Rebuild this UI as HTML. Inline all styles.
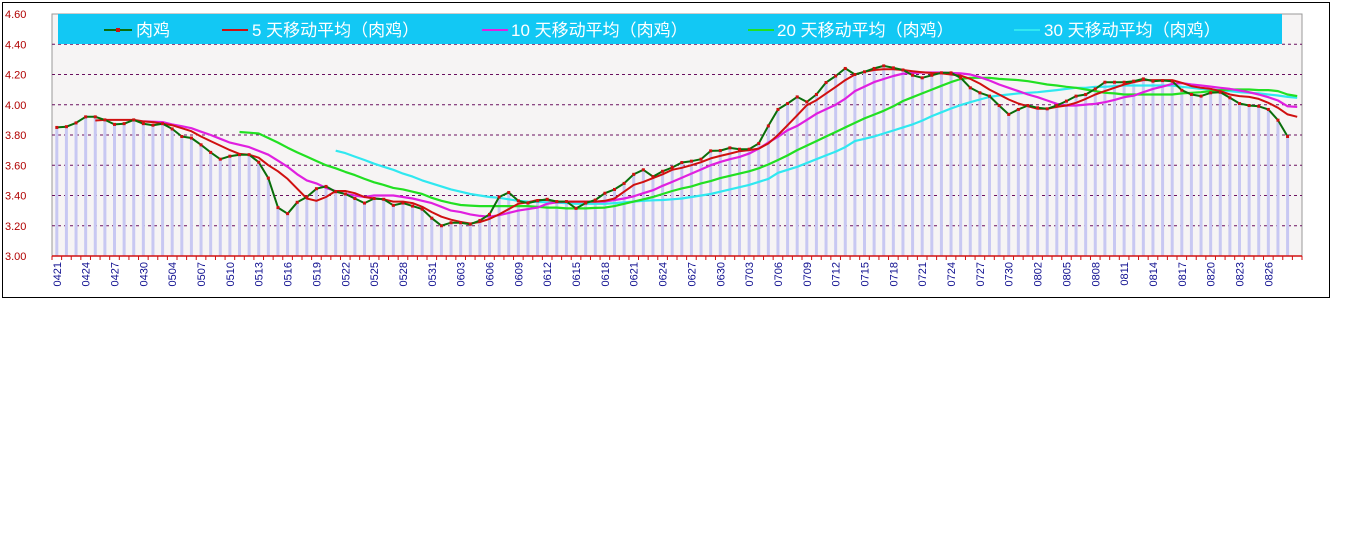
<!DOCTYPE html>
<html><head><meta charset="utf-8">
<style>
html,body{margin:0;padding:0;background:#fff;width:1346px;height:541px;overflow:hidden}
svg{display:block}
text{font-family:"Liberation Sans","Noto Sans CJK SC",sans-serif}
</style></head>
<body>
<svg id="chart" width="1346" height="541" xmlns="http://www.w3.org/2000/svg">
<rect x="2.5" y="2.5" width="1327" height="295" fill="#fff" stroke="#000" stroke-width="1"/>
<rect x="52" y="14" width="1250" height="242" fill="#f6f4f4" stroke="#999" stroke-width="1"/>
<g id="grid"></g>
<g id="bars"></g>
<g id="lines"></g>
<g id="axes"></g>
<g>
<rect x="58" y="14" width="1224" height="30" fill="#12c8f4"/>
<g><line x1="104" y1="30" x2="132" y2="30" stroke="#0a6e0a" stroke-width="2"/><rect x="116" y="28" width="4" height="4" fill="#d01010"/><text x="136" y="36" fill="#fff" font-size="17">肉鸡</text></g>
<g><line x1="222" y1="30" x2="248" y2="30" stroke="#d01010" stroke-width="2"/><text x="252" y="36" fill="#fff" font-size="17">5 天移动平均（肉鸡）</text></g>
<g><line x1="482" y1="30" x2="508" y2="30" stroke="#e020e0" stroke-width="2"/><text x="511" y="36" fill="#fff" font-size="17">10 天移动平均（肉鸡）</text></g>
<g><line x1="748" y1="30" x2="774" y2="30" stroke="#22e022" stroke-width="2"/><text x="777" y="36" fill="#fff" font-size="17">20 天移动平均（肉鸡）</text></g>
<g><line x1="1014" y1="30" x2="1040" y2="30" stroke="#30e8f0" stroke-width="2"/><text x="1044" y="36" fill="#fff" font-size="17">30 天移动平均（肉鸡）</text></g>
</g>
</svg>
<script>
const labels=["0421","0424","0427","0430","0504","0507","0510","0513","0516","0519","0522","0525","0528","0531","0603","0606","0609","0612","0615","0618","0621","0624","0627","0630","0703","0706","0709","0712","0715","0718","0721","0724","0727","0730","0802","0805","0808","0811","0814","0817","0820","0823","0826"];
const yTicks=[3.00,3.20,3.40,3.60,3.80,4.00,4.20,4.40,4.60];
const raw=[3.85,3.855,3.88,3.92,3.92,3.90,3.87,3.875,3.90,3.875,3.865,3.875,3.84,3.79,3.78,3.735,3.685,3.64,3.66,3.67,3.67,3.62,3.515,3.32,3.28,3.355,3.39,3.445,3.46,3.425,3.41,3.38,3.35,3.38,3.375,3.335,3.35,3.33,3.31,3.25,3.20,3.22,3.22,3.21,3.235,3.275,3.39,3.42,3.365,3.35,3.365,3.375,3.36,3.36,3.315,3.35,3.37,3.415,3.44,3.48,3.54,3.57,3.525,3.56,3.585,3.618,3.627,3.64,3.695,3.697,3.715,3.706,3.706,3.744,3.86,3.969,4.008,4.052,4.019,4.068,4.147,4.19,4.24,4.20,4.218,4.24,4.257,4.244,4.23,4.195,4.178,4.195,4.211,4.211,4.178,4.112,4.079,4.057,3.995,3.936,3.969,3.995,3.98,3.973,3.995,4.024,4.057,4.068,4.105,4.149,4.149,4.149,4.156,4.171,4.156,4.16,4.156,4.096,4.068,4.057,4.079,4.083,4.046,4.008,3.995,3.99,3.969,3.898,3.79,null];
const ma5=[null,null,null,null,3.896,3.90,3.90,3.90,3.90,3.89,3.885,3.875,3.865,3.845,3.825,3.79,3.76,3.73,3.70,3.675,3.67,3.65,3.60,3.56,3.51,3.445,3.38,3.365,3.39,3.43,3.43,3.415,3.39,3.38,3.375,3.36,3.36,3.35,3.325,3.29,3.26,3.24,3.225,3.215,3.225,3.245,3.275,3.31,3.345,3.355,3.37,3.37,3.36,3.36,3.36,3.36,3.36,3.365,3.38,3.425,3.47,3.49,3.515,3.54,3.57,3.583,3.60,3.62,3.645,3.662,3.677,3.693,3.70,3.71,3.744,3.80,3.865,3.93,3.997,4.03,4.074,4.118,4.163,4.20,4.218,4.23,4.235,4.235,4.23,4.222,4.215,4.21,4.207,4.20,4.193,4.171,4.14,4.10,4.068,4.035,4.008,3.99,3.973,3.973,3.986,3.995,4.013,4.039,4.068,4.09,4.112,4.134,4.149,4.163,4.163,4.163,4.163,4.145,4.123,4.112,4.105,4.09,4.068,4.057,4.052,4.039,4.013,3.98,3.936,3.92];
const ma10=[null,null,null,null,null,null,null,null,null,3.89,3.888,3.885,3.87,3.858,3.845,3.822,3.80,3.775,3.75,3.735,3.72,3.695,3.67,3.63,3.59,3.54,3.50,3.48,3.45,3.43,3.41,3.40,3.39,3.40,3.40,3.40,3.39,3.38,3.365,3.35,3.325,3.30,3.29,3.275,3.265,3.26,3.27,3.285,3.30,3.31,3.32,3.345,3.355,3.36,3.36,3.36,3.36,3.36,3.37,3.38,3.395,3.415,3.435,3.464,3.49,3.517,3.545,3.572,3.60,3.622,3.64,3.655,3.677,3.71,3.75,3.788,3.832,3.86,3.90,3.94,3.97,4.0,4.04,4.09,4.12,4.15,4.17,4.19,4.205,4.21,4.213,4.213,4.213,4.21,4.207,4.2,4.182,4.16,4.134,4.112,4.09,4.068,4.05,4.028,4.006,3.995,3.995,4.001,4.006,4.017,4.032,4.05,4.06,4.083,4.105,4.12,4.138,4.143,4.134,4.127,4.12,4.112,4.105,4.094,4.083,4.068,4.05,4.028,3.99,3.986];
const ma20=[null,null,null,null,null,null,null,null,null,null,null,null,null,null,null,null,null,null,null,3.82,3.815,3.81,3.78,3.75,3.716,3.685,3.657,3.628,3.60,3.58,3.556,3.535,3.51,3.487,3.47,3.45,3.44,3.425,3.41,3.385,3.365,3.35,3.337,3.333,3.33,3.33,3.33,3.33,3.33,3.33,3.325,3.32,3.32,3.315,3.315,3.315,3.318,3.32,3.33,3.345,3.36,3.375,3.39,3.41,3.43,3.447,3.46,3.48,3.495,3.515,3.53,3.545,3.56,3.58,3.605,3.635,3.665,3.70,3.73,3.76,3.79,3.82,3.85,3.88,3.91,3.935,3.96,3.99,4.025,4.05,4.075,4.10,4.125,4.15,4.17,4.178,4.178,4.178,4.171,4.167,4.163,4.156,4.145,4.134,4.127,4.119,4.112,4.101,4.09,4.079,4.075,4.068,4.068,4.068,4.068,4.068,4.068,4.075,4.079,4.083,4.09,4.097,4.101,4.101,4.101,4.097,4.097,4.09,4.068,4.057];
const ma30=[null,null,null,null,null,null,null,null,null,null,null,null,null,null,null,null,null,null,null,null,null,null,null,null,null,null,null,null,null,3.696,3.68,3.657,3.635,3.61,3.59,3.57,3.545,3.525,3.50,3.48,3.46,3.44,3.425,3.41,3.40,3.39,3.385,3.375,3.365,3.36,3.358,3.355,3.353,3.35,3.345,3.345,3.345,3.345,3.35,3.355,3.36,3.365,3.368,3.37,3.375,3.38,3.39,3.40,3.41,3.425,3.44,3.455,3.47,3.49,3.51,3.55,3.57,3.59,3.615,3.64,3.665,3.69,3.72,3.76,3.775,3.79,3.81,3.83,3.85,3.87,3.895,3.925,3.95,3.975,3.998,4.017,4.035,4.052,4.061,4.068,4.075,4.079,4.083,4.09,4.097,4.105,4.112,4.112,4.119,4.119,4.123,4.127,4.127,4.127,4.127,4.127,4.127,4.119,4.112,4.105,4.101,4.097,4.09,4.083,4.079,4.075,4.068,4.061,4.052,4.046];

const NS="http://www.w3.org/2000/svg";
const X0=52,X1=1302,Y0=256,Y1=14,N=130,VMIN=3.0,VMAX=4.6;
const bw=(X1-X0)/N;
function xPos(i){return X0+(i+0.5)*bw;}
function yPos(v){return Y0-(v-VMIN)/(VMAX-VMIN)*(Y0-Y1);}
function mk(tag,attrs,parent){const e=document.createElementNS(NS,tag);for(const k in attrs)e.setAttribute(k,attrs[k]);parent.appendChild(e);return e;}
const grid=document.getElementById('grid'),bars=document.getElementById('bars'),lines=document.getElementById('lines'),axes=document.getElementById('axes');

yTicks.forEach(t=>{
  const y=yPos(t);
  if(t>VMIN&&t<VMAX){
    const g=mk('line',{x1:X0,x2:X1,y1:y,y2:y,stroke:'#6a1060','stroke-width':1,'stroke-dasharray':'3,3'},grid);
    
    
  }
  const tx=mk('text',{x:5,y:y+4,fill:'#b00000','font-size':11,'font-family':'Liberation Mono, monospace'},axes);
  tx.textContent=t.toFixed(2);
  
  
});

raw.forEach((v,i)=>{
  if(v==null)return;
  const b=mk('rect',{x:xPos(i)-1.5,y:yPos(v),width:3,height:Y0-yPos(v),fill:'#c8c8f2'},bars);
  
  
});

function drawLine(arr,color,name,w){
  let d='';
  arr.forEach((v,i)=>{if(v==null)return;d+=(d?'L':'M')+xPos(i).toFixed(1)+','+yPos(v).toFixed(1);});
  const p=mk('path',{d:d,fill:'none',stroke:color,'stroke-width':w,'stroke-linejoin':'round'},lines);
  
  
}
drawLine(ma30,'#30e8f0','ma30-line',2.2);
drawLine(ma20,'#22e022','ma20-line',2.2);
drawLine(ma10,'#e020e0','ma10-line',2.2);
drawLine(ma5,'#d01010','ma5-line',2);
drawLine(raw,'#0a6e0a','raw-price-line',2);
raw.forEach((v,i)=>{
  if(v==null)return;
  const m=mk('rect',{x:xPos(i)-1.5,y:yPos(v)-1.5,width:3,height:3,fill:'#d01010'},lines);
  
  
});

const ax=mk('line',{x1:X0,x2:X1,y1:Y0,y2:Y0,stroke:'#d01010','stroke-width':1.5},axes);


for(let i=0;i<=N;i++){
  const x=X0+i*bw;
  const t=mk('line',{x1:x,x2:x,y1:Y0,y2:Y0+4,stroke:'#d01010','stroke-width':1},axes);
  
  
}
labels.forEach((l,k)=>{
  const x=xPos(k*3)+4;
  const t=mk('text',{x:0,y:0,fill:'#101090','font-size':11,'text-anchor':'end',transform:'translate('+x+',262) rotate(-90)'},axes);
  t.textContent=l;
  
  
});
</script>
</body></html>
